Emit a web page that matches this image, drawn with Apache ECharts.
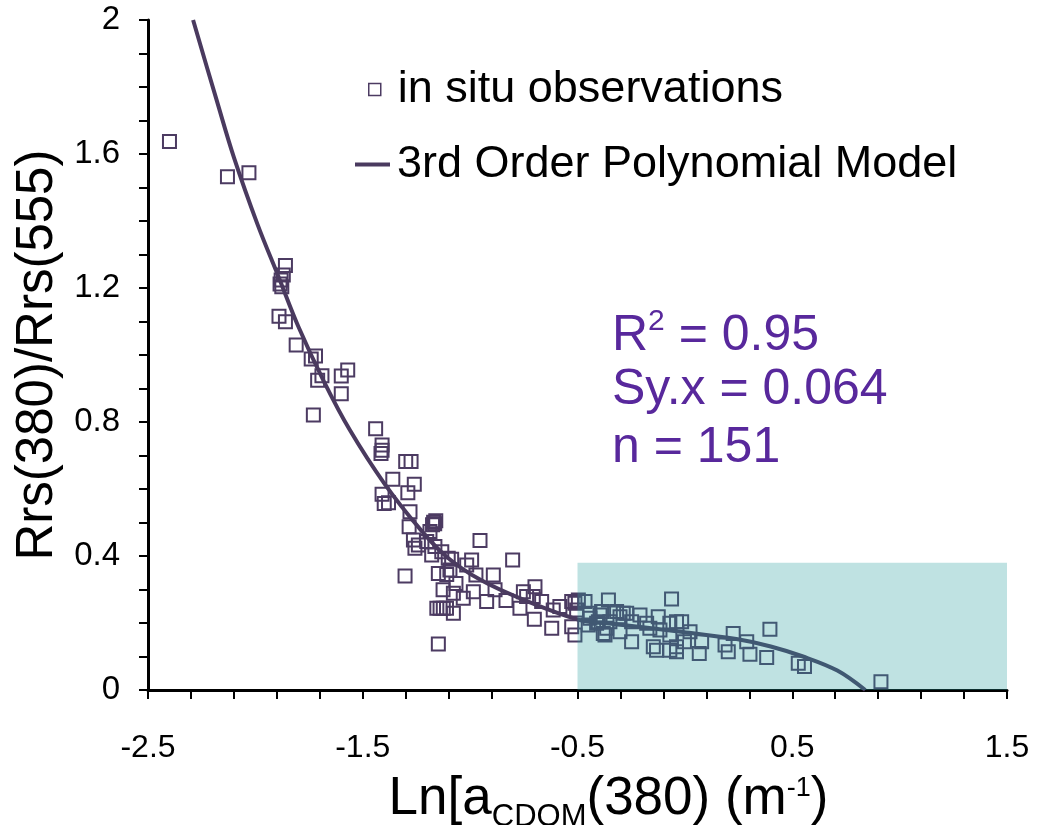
<!DOCTYPE html>
<html>
<head>
<meta charset="utf-8">
<script src="https://cdn.jsdelivr.net/npm/echarts@6/dist/echarts.min.js"></script>
<style>html,body{margin:0;padding:0;background:#fff}#c{width:1041px;height:825px}</style>
</head>
<body>
<div id="c"></div>
<script>
// in situ observations: [Ln aCDOM(380), Rrs(380)/Rrs(555)]
const observations = [
  [-2.40,1.637],[-2.13,1.532],[-2.03,1.544],[-1.86,1.267],[-1.87,1.239],[-1.88,1.224],[-1.885,1.212],[-1.877,1.204],
  [-1.89,1.116],[-1.86,1.099],[-1.81,1.03],[-1.74,0.988],[-1.72,0.997],[-1.71,0.925],[-1.69,0.938],[-1.60,0.937],
  [-1.57,0.955],[-1.60,0.884],[-1.73,0.821],[-1.44,0.780],[-1.41,0.731],[-1.41,0.716],[-1.415,0.706],[-1.30,0.682],
  [-1.275,0.682],[-1.36,0.629],[-1.26,0.614],[-1.29,0.589],[-1.41,0.584],[-1.40,0.557],[-1.38,0.559],[-1.28,0.532],
  [-1.284,0.487],[-1.17,0.501],[-1.165,0.496],[-1.175,0.493],[-1.16,0.505],[-1.187,0.473],[-1.264,0.448],[-1.241,0.433],
  [-1.257,0.423],[-1.202,0.443],[-1.164,0.428],[-1.179,0.403],[-1.132,0.413],[-1.102,0.393],[-0.954,0.446],[-1.303,0.340],
  [-1.148,0.348],[-1.094,0.358],[-0.993,0.388],[-0.802,0.388],[-1.086,0.390],[-1.016,0.373],[-1.109,0.345],[-0.973,0.343],
  [-0.892,0.343],[-1.066,0.318],[-1.126,0.299],[-1.078,0.289],[-1.032,0.274],[-0.985,0.293],[-0.923,0.264],[-0.884,0.299],
  [-0.833,0.267],[-0.768,0.244],[-0.752,0.293],[-0.706,0.279],[-0.698,0.308],[-0.701,0.211],[-1.155,0.244],[-1.14,0.244],
  [-1.125,0.244],[-1.11,0.244],[-1.078,0.229],[-1.148,0.137],[-0.737,0.279],[-0.667,0.264],[-0.582,0.249],[-0.613,0.239],
  [-0.620,0.184],[-0.527,0.264],[-0.512,0.259],[-0.496,0.269],[-0.504,0.239],[-0.527,0.189],[-0.512,0.164],[-0.465,0.264],
  [-0.442,0.229],[-0.395,0.224],[-0.356,0.269],[-0.380,0.169],[-0.450,0.194],[-0.403,0.204],[-0.364,0.184],[-0.062,0.272],
  [-0.388,0.234],[-0.442,0.214],[-0.318,0.234],[-0.302,0.219],[-0.271,0.229],[-0.209,0.224],[-0.124,0.219],[-0.411,0.199],
  [-0.349,0.204],[-0.248,0.204],[-0.178,0.199],[-0.070,0.199],[-0.039,0.204],[-0.302,0.174],[-0.248,0.144],[-0.163,0.184],
  [-0.116,0.179],[-0.070,0.164],[-0.147,0.129],[-0.132,0.119],[-0.070,0.119],[-0.039,0.129],[-0.015,0.204],[0.024,0.174],
  [0.078,0.144],[0.067,0.109],[-0.002,0.144],[-0.039,0.114],[0.225,0.169],[0.187,0.134],[0.202,0.114],[0.288,0.144],
  [0.303,0.107],[0.381,0.097],[0.396,0.181],[0.528,0.080],[0.557,0.070],[0.913,0.025],[-0.372,0.164],[-0.287,0.229]
];
// 3rd order polynomial model
const modelCurve = [
  [-2.29,2.0],[-2.18,1.76],[-2.10,1.59],[-1.99,1.39],[-1.89,1.23],[-1.80,1.085],[-1.68,0.92],[-1.56,0.776],[-1.40,0.617],
  [-1.23,0.478],[-1.11,0.398],[-0.95,0.328],[-0.75,0.269],[-0.49,0.209],[-0.33,0.197],[-0.02,0.174],[0.24,0.152],
  [0.40,0.13],[0.55,0.10],[0.71,0.058],[0.84,0.0]
];
const shadeX = [-0.5, 1.5];
const shadeY = [0, 0.38];
const statsLines = ['{b|R}{s|2}{b| = 0.95}', '{b|Sy.x = 0.064}', '{b|n = 151}'];
const xTicks = {min: -2.5, max: 1.5, interval: 1};
const yTicks = {min: 0, max: 2, interval: 0.4};

const FONT = "'Liberation Sans', Arial, sans-serif";
const PURPLE = '#4c3b62';
const chart = echarts.init(document.getElementById('c'), null, {renderer: 'canvas'});
const axisLine = {show: true, onZero: false, lineStyle: {color: '#000', width: 3}};
const axisTick = {show: true, inside: false, length: 9, lineStyle: {color: '#000', width: 2}};
chart.setOption({
  backgroundColor: '#fff',
  animation: false,
  textStyle: {fontFamily: FONT},
  grid: {left: 148, right: 34, top: 20, bottom: 135, containLabel: false, outerBoundsMode: 'none'},
  legend: [
    {data: [{name: 'in situ observations', icon: 'rect', itemStyle: {color: 'rgba(0,0,0,0)', borderColor: PURPLE, borderWidth: 1.5}}],
     left: 363, top: 62, itemWidth: 12, itemHeight: 12, selectedMode: false,
     textStyle: {fontSize: 45, color: '#000', fontFamily: FONT, padding: [0, 0, 0, 12]}},
    {data: [{name: '3rd Order Polynomial Model', icon: 'rect', itemStyle: {color: '#4a3a5f', borderWidth: 0}}],
     left: 350, top: 137, itemWidth: 35, itemHeight: 4, selectedMode: false,
     textStyle: {fontSize: 45, color: '#000', fontFamily: FONT, padding: [0, 0, 0, 2]}}
  ],
  xAxis: {
    type: 'value', min: xTicks.min, max: xTicks.max, interval: xTicks.interval,
    axisLine: axisLine, axisTick: axisTick, splitLine: {show: false},
    minorTick: {show: true, splitNumber: 5, length: 9, lineStyle: {color: '#000', width: 2}},
    axisLabel: {fontSize: 32, color: '#000', margin: 42, fontFamily: FONT},
    name: '{b|Ln[a}{sub|CDOM}{b|(380) (m}{sup|-1}{b|)}',
    nameLocation: 'middle', nameGap: 64,
    nameTextStyle: {
      fontFamily: FONT, color: '#000', padding: [0, 0, 0, 62],
      rich: {
        b: {fontSize: 53, fontFamily: FONT, color: '#000', lineHeight: 60},
        sub: {fontSize: 31, fontFamily: FONT, color: '#000', verticalAlign: 'bottom', lineHeight: 60, padding: [0, 0, -4, 0]},
        sup: {fontSize: 27, fontFamily: FONT, color: '#000', verticalAlign: 'top', lineHeight: 60, padding: [6, 0, 0, 0]}
      }
    }
  },
  yAxis: {
    type: 'value', min: yTicks.min, max: yTicks.max, interval: yTicks.interval,
    axisLine: axisLine, axisTick: axisTick, splitLine: {show: false},
    minorTick: {show: true, splitNumber: 4, length: 9, lineStyle: {color: '#000', width: 2}},
    axisLabel: {fontSize: 33, color: '#000', margin: 28, fontFamily: FONT, formatter: v => String(+v.toFixed(1))},
    name: 'Rrs(380)/Rrs(555)', nameLocation: 'middle', nameGap: 81, nameRotate: 90,
    nameTextStyle: {fontSize: 51, color: '#000', fontFamily: FONT}
  },
  graphic: statsLines.map((t, i) => ({
    type: 'text', left: 612, top: 307 + i * 58, z: 20,
    style: {
      text: t,
      rich: {
        b: {fontSize: 50, fontFamily: FONT, fill: '#58289c', lineHeight: 58},
        s: {fontSize: 30, fontFamily: FONT, fill: '#58289c', verticalAlign: 'top', lineHeight: 58}
      }
    }
  })),
  series: [
    {
      name: 'in situ observations', type: 'scatter', z: 2,
      symbol: 'rect', symbolSize: 13,
      itemStyle: {color: 'rgba(0,0,0,0)', borderColor: PURPLE, borderWidth: 2, opacity: 1},
      data: observations
    },
    {
      name: '3rd Order Polynomial Model', type: 'line', z: 3,
      symbol: 'none', smooth: 0.35, clip: true,
      lineStyle: {color: '#4a3a5f', width: 4},
      itemStyle: {color: '#4a3a5f'},
      data: modelCurve
    },
    {
      name: 'shade', type: 'line', z: 10, data: [], silent: true,
      markArea: {
        silent: true, z: 20,
        itemStyle: {color: 'rgba(42,160,160,0.3)'},
        data: [[{coord: [shadeX[0], shadeY[0]]}, {coord: [shadeX[1], shadeY[1]]}]]
      }
    }
  ]
});
</script>
</body>
</html>
